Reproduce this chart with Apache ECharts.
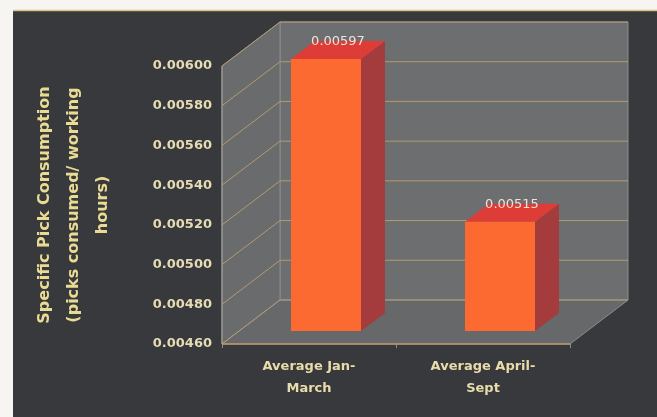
<!DOCTYPE html>
<html><head><meta charset="utf-8">
<script src="https://cdn.jsdelivr.net/npm/echarts@6/dist/echarts.min.js"></script>
<style>html,body{margin:0;padding:0;background:#f6f5f1;}#c{width:657px;height:417px;}</style>
</head><body><div id="c"></div>
<script>
// ---- data ----
const categories = ['Average Jan-\nMarch', 'Average April-\nSept'];
const pickConsumption = [0.00597, 0.00515];
const yTicks = [0.0046, 0.0048, 0.0050, 0.0052, 0.0054, 0.0056, 0.0058, 0.0060];
const yAxisTitle = 'Specific Pick Consumption\n(picks consumed/ working\nhours)';

// ---- 3D look (style/layout only) ----
const DEPTH = [58, -44];
const BAR_FRONT = [17, -13];
const BAR_DEPTH = [24, -18];
const BAR_W = 70;

const chart = echarts.init(document.getElementById('c'), null, {renderer: 'canvas'});

function wallItem(params, api) {
  const cs = params.coordSys;
  const x0 = cs.x, x1 = cs.x + cs.width;
  const yT = cs.y, yB = cs.y + cs.height;
  const dx = DEPTH[0], dy = DEPTH[1];
  const children = [];
  if (params.dataIndex === 0) {
    children.push({type: 'polygon', shape: {points: [[x0 + dx, yT + dy], [x1 + dx, yT + dy], [x1 + dx, yB + dy], [x0 + dx, yB + dy]]},
      style: {fill: '#6d6e70', stroke: '#8c8c8a', lineWidth: 1}});
    children.push({type: 'polygon', shape: {points: [[x0, yT], [x0 + dx, yT + dy], [x0 + dx, yB + dy], [x0, yB]]},
      style: {fill: '#6a6b6d', stroke: '#8c8c8a', lineWidth: 1}});
    children.push({type: 'polygon', shape: {points: [[x0, yB], [x1, yB], [x1 + dx, yB + dy], [x0 + dx, yB + dy]]},
      style: {fill: '#67686a', stroke: '#8c8c8a', lineWidth: 1}});
    children.push({type: 'line', shape: {x1: x0, y1: yT, x2: x0, y2: yB}, style: {stroke: '#a3a29e', lineWidth: 1}});
  }
  const y = api.coord([0, api.value(1)])[1];
  children.push({type: 'polyline', shape: {points: [[x0, y], [x0 + dx, y + dy], [x1 + dx, y + dy]]},
    style: {stroke: '#b39a72', lineWidth: 1, fill: null}});
  if (params.dataIndex === 0) {
    children.push({type: 'line', shape: {x1: x0, y1: yB, x2: x1, y2: yB}, style: {stroke: '#b8986a', lineWidth: 1.5}});
  }
  return {type: 'group', children: children};
}

function barItem(params, api) {
  const cs = params.coordSys;
  const yBase = cs.y + cs.height;
  const p = api.coord([api.value(0), api.value(1)]);
  const cx = p[0] + BAR_FRONT[0];
  const l = cx - BAR_W / 2, r = cx + BAR_W / 2;
  const yTop = p[1] + BAR_FRONT[1];
  const yBot = yBase + BAR_FRONT[1];
  const bx = BAR_DEPTH[0], by = BAR_DEPTH[1];
  return {type: 'group', children: [
    {type: 'polygon', shape: {points: [[r, yTop], [r + bx, yTop + by], [r + bx, yBot + by], [r, yBot]]},
      style: {fill: '#a43b3d'}},
    {type: 'polygon', shape: {points: [[l, yTop], [r, yTop], [r + bx, yTop + by], [l + bx, yTop + by]]},
      style: {fill: '#de3c37'}},
    {type: 'rect', shape: {x: l, y: yTop, width: BAR_W, height: yBot - yTop},
      style: {fill: '#fd6a31'}},
    {type: 'text', x: cx + bx / 2, y: yTop + by + 1,
      style: {text: api.value(1).toFixed(5), align: 'center', verticalAlign: 'middle',
        fill: '#efe2dc', font: '13px "DejaVu Sans"'}}
  ]};
}

chart.setOption({
  backgroundColor: '#f6f5f1',
  animation: false,
  graphic: [
    {type: 'rect', z: -10, zlevel: 0, shape: {x: 13, y: 10, width: 644, height: 407}, style: {fill: '#38393c'}},
    {type: 'line', z: -9, shape: {x1: 13, y1: 10.5, x2: 657, y2: 10.5}, style: {stroke: '#d8c388', lineWidth: 1.5}}
  ],
  grid: {left: 222, top: 66, width: 348, height: 278, containLabel: false},
  xAxis: {
    type: 'category', data: categories,
    axisLine: {show: false},
    axisTick: {show: true, length: 4, lineStyle: {color: '#8c8c8a'}},
    axisLabel: {color: '#e8dcaa', fontFamily: 'DejaVu Sans', fontWeight: 'bold', fontSize: 13, lineHeight: 22, margin: 12},
    splitLine: {show: false}
  },
  yAxis: {
    type: 'value', min: 0.0046, max: 0.006, interval: 0.0002,
    name: yAxisTitle, nameLocation: 'middle', nameRotate: 90, nameGap: 105,
    nameTextStyle: {color: '#eadb94', fontFamily: 'DejaVu Sans', fontWeight: 'bold', fontSize: 16, lineHeight: 29},
    axisLine: {show: false}, axisTick: {show: false},
    axisLabel: {color: '#e6dcb4', fontFamily: 'DejaVu Sans', fontWeight: 'bold', fontSize: 13, margin: 10,
      formatter: v => v.toFixed(5)},
    splitLine: {show: false}
  },
  series: [
    {type: 'custom', name: 'walls', z: 1, clip: false, silent: true,
      data: yTicks.map(t => [0, t]), renderItem: wallItem},
    {type: 'custom', name: 'Specific Pick Consumption', z: 3, clip: false,
      data: pickConsumption.map((v, i) => [i, v]), renderItem: barItem}
  ]
});
</script></body></html>
